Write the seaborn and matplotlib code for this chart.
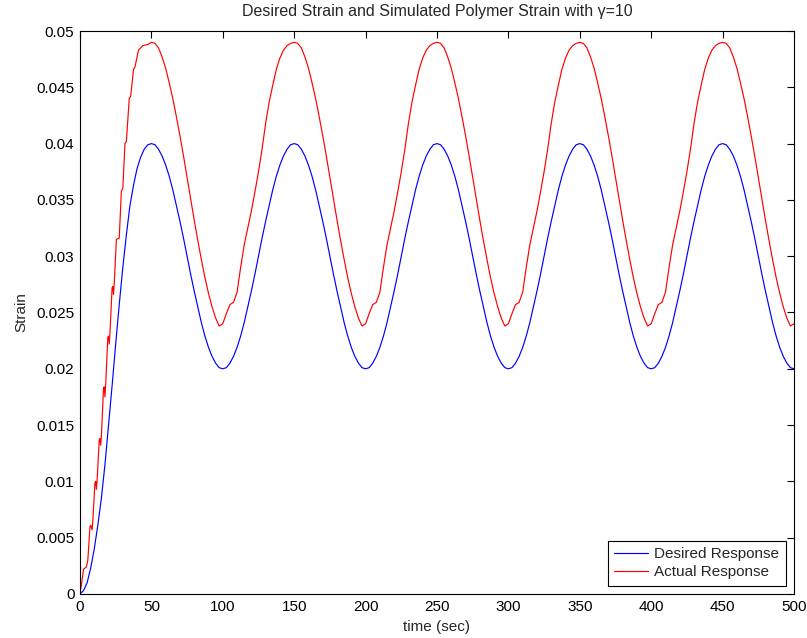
import numpy as np
import pandas as pd
import matplotlib
matplotlib.use("Agg")
import matplotlib.pyplot as plt
import seaborn as sns

# Desired strain, sampled every 2.5 s from 0 to 500 s
time_desired = np.arange(0, 502.5, 2.5)
strain_desired = [
    # start-up, 0-50 s
    0.0000, 0.0003, 0.0010, 0.0023, 0.0040, 0.0061, 0.0085, 0.0115, 0.0150, 0.0185,
    0.0222, 0.0257, 0.0290, 0.0319, 0.0345, 0.0363, 0.0378, 0.0388, 0.0395, 0.0399, 0.0400,
    # 50-150 s
    0.0399, 0.0395, 0.0389, 0.0381, 0.0371, 0.0359, 0.0345, 0.0331, 0.0316, 0.0300,
    0.0284, 0.0269, 0.0255, 0.0241, 0.0229, 0.0219, 0.0211, 0.0205, 0.0201, 0.0200,
    0.0201, 0.0205, 0.0211, 0.0219, 0.0229, 0.0241, 0.0255, 0.0269, 0.0284, 0.0300,
    0.0316, 0.0331, 0.0345, 0.0359, 0.0371, 0.0381, 0.0389, 0.0395, 0.0399, 0.0400,
    # 150-250 s
    0.0399, 0.0395, 0.0389, 0.0381, 0.0371, 0.0359, 0.0345, 0.0331, 0.0316, 0.0300,
    0.0284, 0.0269, 0.0255, 0.0241, 0.0229, 0.0219, 0.0211, 0.0205, 0.0201, 0.0200,
    0.0201, 0.0205, 0.0211, 0.0219, 0.0229, 0.0241, 0.0255, 0.0269, 0.0284, 0.0300,
    0.0316, 0.0331, 0.0345, 0.0359, 0.0371, 0.0381, 0.0389, 0.0395, 0.0399, 0.0400,
    # 250-350 s
    0.0399, 0.0395, 0.0389, 0.0381, 0.0371, 0.0359, 0.0345, 0.0331, 0.0316, 0.0300,
    0.0284, 0.0269, 0.0255, 0.0241, 0.0229, 0.0219, 0.0211, 0.0205, 0.0201, 0.0200,
    0.0201, 0.0205, 0.0211, 0.0219, 0.0229, 0.0241, 0.0255, 0.0269, 0.0284, 0.0300,
    0.0316, 0.0331, 0.0345, 0.0359, 0.0371, 0.0381, 0.0389, 0.0395, 0.0399, 0.0400,
    # 350-450 s
    0.0399, 0.0395, 0.0389, 0.0381, 0.0371, 0.0359, 0.0345, 0.0331, 0.0316, 0.0300,
    0.0284, 0.0269, 0.0255, 0.0241, 0.0229, 0.0219, 0.0211, 0.0205, 0.0201, 0.0200,
    0.0201, 0.0205, 0.0211, 0.0219, 0.0229, 0.0241, 0.0255, 0.0269, 0.0284, 0.0300,
    0.0316, 0.0331, 0.0345, 0.0359, 0.0371, 0.0381, 0.0389, 0.0395, 0.0399, 0.0400,
    # 450-500 s
    0.0399, 0.0395, 0.0389, 0.0381, 0.0371, 0.0359, 0.0345, 0.0331, 0.0316, 0.0300,
    0.0284, 0.0269, 0.0255, 0.0241, 0.0229, 0.0219, 0.0211, 0.0205, 0.0201, 0.0200,
]

# Simulated polymer strain: staircase start-up (0-50 s)
time_actual_start = [
    0, 1, 2.5, 4.5, 5.5, 7, 7.5, 8.5, 9, 10.5,
    11, 11.5, 12, 13.5, 14, 14.5, 15, 16.5, 17, 17.5,
    18, 19.5, 20, 20.5, 21, 22.5, 23, 23.5, 24, 25.5,
    27.5, 29, 30, 31.5, 32.5, 34.5, 35.5, 37.5, 38.5, 41,
    44, 47.5,
]
strain_actual_start = [
    0.0000, 0.0008, 0.0022, 0.0024, 0.0030, 0.0060, 0.0061, 0.0057, 0.0065, 0.0099,
    0.0100, 0.0093, 0.0101, 0.0137, 0.0138, 0.0132, 0.0140, 0.0183, 0.0184, 0.0175,
    0.0186, 0.0228, 0.0229, 0.0222, 0.0232, 0.0272, 0.0273, 0.0266, 0.0276, 0.0315,
    0.0316, 0.0358, 0.0360, 0.0400, 0.0402, 0.0440, 0.0442, 0.0466, 0.0468, 0.0483,
    0.0487, 0.0488,
]

# Simulated polymer strain: cyclic part, every 2.5 s from 50 to 500 s
time_actual_cycle = np.arange(50, 502.5, 2.5)
strain_actual_cycle = [
    0.0490, 0.0489, 0.0485, 0.0477, 0.0467, 0.0454, 0.0440, 0.0424, 0.0407, 0.0389,
    0.0370, 0.0351, 0.0332, 0.0314, 0.0297, 0.0281, 0.0267, 0.0255, 0.0245, 0.0238,
    0.0240, 0.0249, 0.0257, 0.0259, 0.0268, 0.0290, 0.0310, 0.0325, 0.0340, 0.0357,
    0.0375, 0.0395, 0.0418, 0.0437, 0.0452, 0.0466, 0.0476, 0.0483, 0.0487, 0.0489, 0.0490,
    0.0489, 0.0485, 0.0477, 0.0467, 0.0454, 0.0440, 0.0424, 0.0407, 0.0389,
    0.0370, 0.0351, 0.0332, 0.0314, 0.0297, 0.0281, 0.0267, 0.0255, 0.0245, 0.0238,
    0.0240, 0.0249, 0.0257, 0.0259, 0.0268, 0.0290, 0.0310, 0.0325, 0.0340, 0.0357,
    0.0375, 0.0395, 0.0418, 0.0437, 0.0452, 0.0466, 0.0476, 0.0483, 0.0487, 0.0489, 0.0490,
    0.0489, 0.0485, 0.0477, 0.0467, 0.0454, 0.0440, 0.0424, 0.0407, 0.0389,
    0.0370, 0.0351, 0.0332, 0.0314, 0.0297, 0.0281, 0.0267, 0.0255, 0.0245, 0.0238,
    0.0240, 0.0249, 0.0257, 0.0259, 0.0268, 0.0290, 0.0310, 0.0325, 0.0340, 0.0357,
    0.0375, 0.0395, 0.0418, 0.0437, 0.0452, 0.0466, 0.0476, 0.0483, 0.0487, 0.0489, 0.0490,
    0.0489, 0.0485, 0.0477, 0.0467, 0.0454, 0.0440, 0.0424, 0.0407, 0.0389,
    0.0370, 0.0351, 0.0332, 0.0314, 0.0297, 0.0281, 0.0267, 0.0255, 0.0245, 0.0238,
    0.0240, 0.0249, 0.0257, 0.0259, 0.0268, 0.0290, 0.0310, 0.0325, 0.0340, 0.0357,
    0.0375, 0.0395, 0.0418, 0.0437, 0.0452, 0.0466, 0.0476, 0.0483, 0.0487, 0.0489, 0.0490,
    0.0489, 0.0485, 0.0477, 0.0467, 0.0454, 0.0440, 0.0424, 0.0407, 0.0389,
    0.0370, 0.0351, 0.0332, 0.0314, 0.0297, 0.0281, 0.0267, 0.0255, 0.0245, 0.0238,
    0.0240,
]

x_ticks = [0, 50, 100, 150, 200, 250, 300, 350, 400, 450, 500]
y_ticks = [0, 0.005, 0.01, 0.015, 0.02, 0.025, 0.03, 0.035, 0.04, 0.045, 0.05]
y_tick_labels = ["0", "0.005", "0.01", "0.015", "0.02", "0.025", "0.03",
                 "0.035", "0.04", "0.045", "0.05"]

desired = pd.DataFrame({"time": time_desired, "strain": strain_desired})
actual = pd.DataFrame({
    "time": np.concatenate([time_actual_start, time_actual_cycle]),
    "strain": np.concatenate([strain_actual_start, strain_actual_cycle]),
})

sns.set_style("white")
plt.rcParams["font.family"] = ["Liberation Sans", "DejaVu Sans"]
plt.rcParams["font.size"] = 11

fig = plt.figure(figsize=(8.07, 6.38), dpi=100)
ax = fig.add_axes([0.0991, 0.069, 0.8848, 0.8824])

sns.lineplot(data=desired, x="time", y="strain", color="#0000ff", linewidth=0.85,
             sort=False, errorbar=None, label="Desired Response", ax=ax)
sns.lineplot(data=actual, x="time", y="strain", color="#ff0000", linewidth=0.85,
             sort=False, errorbar=None, label="Actual Response", ax=ax)

ax.set_xlim(0, 500)
ax.set_ylim(0, 0.05)
ax.set_xticks(x_ticks)
ax.set_yticks(y_ticks)
ax.set_yticklabels(y_tick_labels)
ax.tick_params(direction="in", top=True, right=True, length=5, width=0.8,
               labelsize=11, colors="black", pad=4)
for spine in ax.spines.values():
    spine.set_color("black")
    spine.set_linewidth(0.8)

ax.set_xlabel("time (sec)", fontsize=11, labelpad=5)
ax.set_ylabel("Strain", fontsize=11, labelpad=6)
ax.set_title("Desired Strain and Simulated Polymer Strain with \u03b3=10",
             fontsize=11.5, pad=11)

leg = ax.legend(loc="lower right", fancybox=False, framealpha=1, edgecolor="black",
                handlelength=2.2, handletextpad=0.45, borderaxespad=0.55, fontsize=11,
                borderpad=0.4, labelspacing=0.3)
leg.get_frame().set_linewidth(0.8)

fig.savefig("out.png", dpi=100, facecolor="white")
